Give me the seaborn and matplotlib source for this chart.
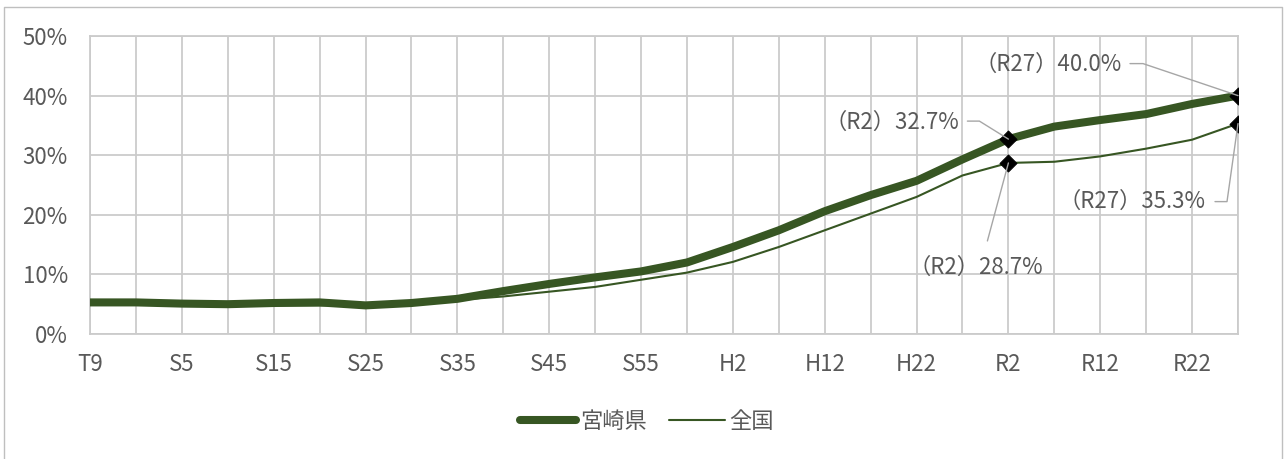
import matplotlib
matplotlib.use("Agg")
import matplotlib.pyplot as plt
from matplotlib.lines import Line2D
from matplotlib.transforms import IdentityTransform
import pandas as pd
import seaborn as sns

# Census / projection years (Taishō, Shōwa, Heisei, Reiwa)
periods = ["T9", "T14", "S5", "S10", "S15", "S22", "S25", "S30", "S35", "S40",
           "S45", "S50", "S55", "S60", "H2", "H7", "H12", "H17", "H22", "H27",
           "R2", "R7", "R12", "R17", "R22", "R27"]

# Share of population aged 65+ (%)
miyazaki = [5.3, 5.3, 5.1, 5.0, 5.2, 5.3, 4.8, 5.2, 5.9, 7.2,
            8.4, 9.5, 10.5, 12.0, 14.6, 17.4, 20.6, 23.3, 25.7, 29.3,
            32.7, 34.8, 35.9, 36.9, 38.6, 40.0]
national = [5.3, 5.1, 4.8, 4.7, 4.8, 4.8, 4.9, 5.3, 5.7, 6.3,
            7.1, 7.9, 9.1, 10.3, 12.1, 14.6, 17.4, 20.2, 23.0, 26.6,
            28.7, 28.9, 29.8, 31.1, 32.6, 35.3]

series_names = ["宮崎県", "全国"]
y_ticks = [0, 10, 20, 30, 40, 50]

# Highlighted points: (series, period, label text)
callouts = [
    ("宮崎県", "R27", "（R27）40.0%"),
    ("宮崎県", "R2", "（R2）32.7%"),
    ("全国", "R2", "（R2）28.7%"),
    ("全国", "R27", "（R27）35.3%"),
]

sns.set_theme(style="white")
plt.rcParams["font.family"] = ["Noto Sans CJK JP", "DejaVu Sans"]

GREEN = "#375623"
GRID = "#cbcbcb"
TEXT = "#595959"
LEADER = "#a6a6a6"
FS = 16

df = pd.DataFrame({
    "pos": list(range(len(periods))) * 2,
    "period": periods * 2,
    "rate": miyazaki + national,
    "area": [series_names[0]] * len(periods) + [series_names[1]] * len(periods),
})

W, H = 1287, 459
fig = plt.figure(figsize=(W / 100, H / 100), dpi=100)
ax = fig.add_axes([90 / W, 1 - 334 / H, (1238 - 90) / W, (334 - 36) / H])

sub_pref = df[df["area"] == series_names[0]]
sub_nat = df[df["area"] == series_names[1]]
sns.lineplot(data=sub_pref, x="pos", y="rate", ax=ax, color=GREEN, linewidth=5.8,
             solid_capstyle="round", solid_joinstyle="round", zorder=3, legend=False)
sns.lineplot(data=sub_nat, x="pos", y="rate", ax=ax, color=GREEN, linewidth=1.5,
             solid_joinstyle="round", zorder=4, legend=False)

# Markers on highlighted points
mk = pd.DataFrame([
    {"pos": periods.index(p),
     "rate": (miyazaki if s == series_names[0] else national)[periods.index(p)]}
    for s, p, _ in callouts
])
sns.scatterplot(data=mk, x="pos", y="rate", ax=ax, marker="D", s=75,
                color="black", edgecolor="black", zorder=5, legend=False)

ax.set_xlim(0, len(periods) - 1)
ax.set_ylim(0, 50)
ax.set_xticks(range(len(periods)))
ax.set_xticklabels([p if i % 2 == 0 else "" for i, p in enumerate(periods)])
ax.set_yticks(y_ticks)
ax.set_yticklabels([f"{v}%" for v in y_ticks])
ax.tick_params(axis="both", length=0, labelsize=FS, labelcolor=TEXT)
ax.tick_params(axis="y", pad=16)
ax.tick_params(axis="x", pad=14)
ax.grid(True, color=GRID, linewidth=1.3)
for sp in ax.spines.values():
    sp.set_visible(True)
    sp.set_color(GRID)
    sp.set_linewidth(1.3)
ax.set_xlabel("")
ax.set_ylabel("")

# Callout labels with leader lines (offsets in pixels, y downward)
label_layout = {
    0: dict(text=(-116, -31), ha="right", leader=[(-108, -32), (-95, -32), (0, 0)]),
    1: dict(text=(-49, -17), ha="right", leader=[(-41, -18), (-29, -18), (0, 0)]),
    2: dict(text=(-33, 104), ha="center", leader=[(-21, 78), (0, 0)]),
    3: dict(text=(-32, 78), ha="right", leader=[(-23, 78), (-11, 78), (0, 0)]),
}
fig.canvas.draw()
for i, (s, p, label) in enumerate(callouts):
    k = periods.index(p)
    v = (miyazaki if s == series_names[0] else national)[k]
    lay = label_layout[i]
    ax.annotate(label, xy=(k, v), xytext=(lay["text"][0], -lay["text"][1]),
                textcoords="offset pixels", ha=lay["ha"], va="center",
                fontsize=FS, color=TEXT, zorder=6)
    px, py = ax.transData.transform((k, v))
    xs = [px + dx for dx, dy in lay["leader"]]
    ys = [py - dy for dx, dy in lay["leader"]]
    fig.add_artist(Line2D(xs, ys, transform=IdentityTransform(), color=LEADER,
                          linewidth=1.0, zorder=2))

# Legend
handles = [
    Line2D([0], [0], color=GREEN, linewidth=5.8, solid_capstyle="round"),
    Line2D([0], [0], color=GREEN, linewidth=1.5),
]
leg = fig.legend(handles, series_names, loc="center", bbox_to_anchor=(647 / W, 1 - 421 / H),
                 ncol=2, frameon=False, fontsize=FS, handlelength=2.5,
                 handletextpad=0.2, columnspacing=1.0)
for t in leg.get_texts():
    t.set_color(TEXT)

# Chart frame
frame = Line2D([4, 4, 1282, 1282], [-5, H - 7, H - 7, -5], transform=IdentityTransform(),
               color="#bfbfbf", linewidth=1.0)
fig.add_artist(frame)

fig.savefig("out.png", dpi=100, facecolor="white")
